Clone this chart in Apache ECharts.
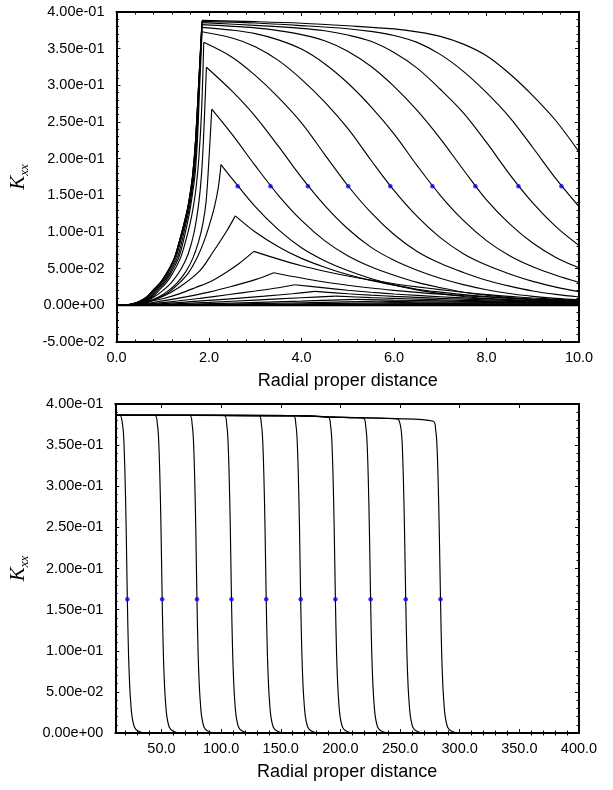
<!DOCTYPE html>
<html><head><meta charset="utf-8">
<script src="https://cdn.jsdelivr.net/npm/echarts@6/dist/echarts.min.js"></script>
<style>html,body{margin:0;padding:0;background:#fff}#c{width:613px;height:790px}</style>
</head><body><div id="c"></div><script>
// ---------- Top panel data (x, Kxx) ----------
const topDotX = [2.62, 3.33, 4.14, 5.01, 5.92, 6.83, 7.76, 8.69, 9.62];
const topDotY = 0.1625;

const envRise = [[0,0],[0.25,0.0008],[0.47,0.0045],[0.65,0.011],[0.79,0.0204],[0.95,0.031],[1.08,0.0432],[1.25,0.064],[1.366,0.0886],[1.46,0.111],[1.544,0.134],[1.6,0.155],[1.65,0.179],[1.71,0.2248],[1.78,0.305]];
const riseC7 = [[0,0],[0.27,0.0008],[0.5,0.0045],[0.68,0.011],[0.82,0.0204],[0.98,0.031],[1.11,0.0432],[1.28,0.064],[1.39,0.0886],[1.48,0.111],[1.56,0.134],[1.615,0.155],[1.665,0.179],[1.72,0.2248],[1.785,0.305]];
const riseC6 = [[0,0],[0.29,0.0008],[0.52,0.0045],[0.71,0.011],[0.85,0.0204],[1.01,0.031],[1.14,0.0432],[1.31,0.064],[1.42,0.0886],[1.5,0.111],[1.58,0.134],[1.63,0.155],[1.68,0.179],[1.735,0.2248],[1.79,0.305]];
const riseC5 = [[0,0],[0.31,0.0008],[0.55,0.0045],[0.74,0.011],[0.88,0.0204],[1.04,0.031],[1.17,0.0432],[1.34,0.064],[1.45,0.0886],[1.53,0.111],[1.6,0.134],[1.65,0.155],[1.7,0.179],[1.75,0.2248],[1.8,0.3]];
const riseC4 = [[0,0],[0.33,0.0008],[0.58,0.0045],[0.77,0.011],[0.92,0.0204],[1.08,0.031],[1.21,0.0432],[1.38,0.064],[1.5,0.0886],[1.59,0.111],[1.66,0.134],[1.72,0.16],[1.78,0.2],[1.84,0.2648]];
const riseC3 = [[0,0],[0.3,0.001],[0.6,0.005],[0.8,0.011],[1.0,0.02],[1.2,0.032],[1.4,0.05],[1.55,0.07],[1.68,0.1],[1.78,0.14],[1.84,0.18],[1.88,0.2248]];
const riseC2 = [[0,0],[0.35,0.001],[0.65,0.005],[0.9,0.011],[1.1,0.019],[1.3,0.03],[1.5,0.046],[1.65,0.064],[1.78,0.088],[1.87,0.112],[1.94,0.143],[2.0,0.2]];
const riseC1 = [[0,0],[0.4,0.001],[0.7,0.0045],[1.08,0.0159],[1.3,0.027],[1.544,0.0432],[1.75,0.066],[1.9,0.0886],[2.02,0.112],[2.117,0.134],[2.2,0.16]];
const riseB1 = [[0,0],[0.4,0.002],[0.7,0.006],[1.0,0.012],[1.366,0.025],[1.8,0.047],[2.08,0.072],[2.37,0.100]];
const riseB2 = [[0,0],[0.4,0.0015],[0.7,0.005],[1.0,0.009],[1.37,0.016],[1.7,0.024],[2.08,0.034],[2.4,0.046],[2.65,0.057]];
const riseB3 = [[0,0],[0.5,0.0015],[1.0,0.006],[1.5,0.0115],[2.0,0.018],[2.5,0.026],[3.0,0.035]];
const riseB4 = [[0,0],[0.6,0.0015],[1.2,0.005],[1.8,0.0095],[2.4,0.0145],[3.0,0.0195],[3.5,0.024]];
const riseB5 = [[0,0],[0.8,0.0015],[1.6,0.005],[2.4,0.0085],[3.2,0.0125],[3.8,0.0158]];
const riseB6 = [[0,0],[1,0.0015],[2,0.004],[3,0.0072],[4,0.0103]];
const riseB7 = [[0,0],[1.2,0.001],[2.5,0.003],[4,0.0058]];
const riseB8 = [[0,0],[1.5,0.0008],[3,0.0023],[4.5,0.0041]];
const riseB9 = [[0,0],[2,0.0007],[4,0.002]];
const riseB10 = [[0,0],[3,0.0008]];
const riseB11 = [[0,0],[3.5,0.0006]];
const riseB12 = [[0,0],[4,0.0005]];

const fallC10 = [[1.85,0.3885],[3,0.3868],[4,0.3847],[5,0.3812],[6,0.3769],[6.5,0.3729],[7,0.3668],[7.5,0.3562],[8,0.3403],[8.5,0.3158],[9,0.2860],[9.5,0.2517],[10,0.2093]];
const fallC9 = [[1.85,0.3872],[3,0.3850],[4,0.3815],[5,0.3772],[5.5,0.3735],[6,0.3680],[6.5,0.3586],[7,0.3422],[7.5,0.3190],[8,0.2900],[8.5,0.2564],[9,0.2152],[9.5,0.1728],[10,0.1346]];
const fallC8 = [[1.85,0.3855],[3,0.3818],[4,0.3777],[4.5,0.3744],[5,0.3686],[5.5,0.3600],[6,0.3447],[6.5,0.3235],[7,0.2947],[7.5,0.2625],[8,0.2221],[8.5,0.1787],[9,0.1398],[9.5,0.1074],[10,0.0817]];
const fallC7 = [[1.85,0.3827],[3,0.3784],[3.5,0.3746],[4,0.3691],[4.5,0.3608],[5,0.3466],[5.5,0.3260],[6,0.2986],[6.5,0.2658],[7,0.2274],[7.5,0.1849],[8,0.1437],[8.5,0.1110],[9,0.0849],[9.5,0.0653],[10,0.0512]];
const fallC6 = [[1.85,0.3791],[2.5,0.3752],[3,0.3705],[3.5,0.3620],[4,0.3494],[4.5,0.3295],[5,0.3032],[5.5,0.2711],[6,0.2339],[6.5,0.1905],[7,0.1501],[7.5,0.1158],[8,0.0882],[8.5,0.0676],[9,0.0525],[9.5,0.0410],[10,0.0313]];
const fallC5 = [[1.85,0.373],[2.5,0.3645],[3,0.3527],[3.5,0.3340],[4,0.3082],[4.5,0.2774],[5,0.2412],[5.5,0.1982],[6,0.1567],[6.5,0.1212],[7,0.0923],[7.5,0.0705],[8,0.0549],[8.5,0.0428],[9,0.0327],[9.5,0.0249],[10,0.0187]];
const fallC4 = [[1.887,0.3587],[2.5,0.3384],[3,0.3135],[3.5,0.2836],[4,0.2488],[4.5,0.2059],[5,0.1634],[5.5,0.1267],[6,0.0966],[6.5,0.0735],[7,0.0573],[7.5,0.0448],[8,0.0342],[8.5,0.0262],[9,0.0196],[9.5,0.0149],[10,0.0114]];
const fallC3 = [[1.945,0.3247],[2.5,0.2920],[3,0.2578],[3.5,0.2170],[4,0.1744],[4.5,0.1363],[5,0.1044],[5.5,0.0794],[6,0.0615],[6.5,0.0479],[7,0.0369],[7.5,0.0282],[8,0.0213],[8.5,0.0161],[9,0.0123],[9.5,0.0095],[10,0.0075]];
const fallC2 = [[2.06,0.2675],[2.5,0.2330],[3,0.1905],[3.5,0.1501],[4,0.1158],[4.5,0.0882],[5,0.0676],[5.5,0.0525],[6,0.0410],[6.5,0.0313],[7,0.0241],[7.5,0.0179],[8,0.0138],[8.5,0.0105],[9,0.0082],[9.5,0.0066],[10,0.0054]];
const fallC1 = [[2.26,0.192],[2.5,0.1728],[3,0.1346],[3.5,0.1032],[4,0.0785],[4.5,0.0608],[5,0.0474],[5.5,0.0365],[6,0.0279],[6.5,0.0211],[7,0.0160],[7.5,0.0121],[8,0.0094],[8.5,0.0074],[9,0.0060],[9.5,0.0049],[10,0.0041]];
const fallB1 = [[2.57,0.122],[3,0.100],[3.5,0.080],[4,0.064],[4.5,0.052],[5,0.042],[5.5,0.034],[6,0.0275],[6.5,0.022],[7,0.018],[7.5,0.0147],[8,0.012],[8.5,0.0098],[9,0.008],[9.5,0.0066],[10,0.0055]];
const fallB2 = [[2.97,0.0736],[3.5,0.063],[4,0.054],[4.5,0.0465],[5,0.040],[5.5,0.0343],[6,0.0294],[6.5,0.0252],[7,0.0214],[7.5,0.0178],[8,0.0147],[8.5,0.0122],[9,0.0100],[9.5,0.0082],[10,0.0068]];
const fallB3 = [[3.40,0.0445],[4,0.0372],[4.5,0.0318],[5,0.0274],[5.5,0.0236],[6,0.0204],[6.5,0.0176],[7,0.0152],[7.5,0.0132],[8,0.0114],[8.5,0.0098],[9,0.0085],[9.5,0.0074],[10,0.0064]];
const fallB4 = [[3.85,0.028],[4.5,0.0238],[5,0.0206],[5.5,0.0178],[6,0.0155],[6.5,0.0135],[7,0.0117],[7.5,0.0102],[8,0.0089],[8.5,0.0078],[9,0.0068],[9.5,0.006],[10,0.0053]];
const fallB5 = [[4.29,0.019],[5,0.0158],[5.5,0.0139],[6,0.0122],[6.5,0.0108],[7,0.0095],[7.5,0.0084],[8,0.0074],[8.5,0.0066],[9,0.0058],[9.5,0.0052],[10,0.0046]];
const fallB6 = [[4.74,0.0125],[5.5,0.0106],[6,0.0095],[6.5,0.0085],[7,0.0076],[8,0.0061],[9,0.0049],[10,0.004]];
const fallB7 = [[5.2,0.0082],[6,0.0071],[7,0.006],[8,0.005],[9,0.0042],[10,0.0035]];
const fallB8 = [[5.65,0.0055],[6.5,0.0049],[8,0.0041],[10,0.003]];
const fallB9 = [[6.1,0.0037],[7,0.0034],[8.5,0.003],[10,0.0025]];
const fallB10 = [[6.55,0.0025],[8,0.0022],[10,0.0019]];
const fallB11 = [[7.0,0.0017],[8.5,0.0015],[10,0.0013]];
const fallB12 = [[7.45,0.0011],[10,0.0009]];
const zeroLine = [[0,0],[10,0]];

const topPairs = [
  [envRise, fallC10], [envRise, fallC9], [envRise, fallC8], [riseC7, fallC7], [riseC6, fallC6],
  [riseC5, fallC5], [riseC4, fallC4], [riseC3, fallC3], [riseC2, fallC2], [riseC1, fallC1],
  [riseB1, fallB1], [riseB2, fallB2], [riseB3, fallB3], [riseB4, fallB4], [riseB5, fallB5],
  [riseB6, fallB6], [riseB7, fallB7], [riseB8, fallB8], [riseB9, fallB9], [riseB10, fallB10],
  [riseB11, fallB11], [riseB12, fallB12]
];

// ---------- Bottom panel data ----------
const botDotX = [21.4, 50.6, 79.75, 108.7, 137.8, 166.7, 195.8, 225.3, 254.75, 283.9];
const botDotY = 0.1625;
const botC1 = [[11.3,0.3862],[15.4,0.386],[17.4,0.375],[18.4,0.358],[19.4,0.316],[20.4,0.251],[21.4,0.1625],[22.4,0.096],[23.4,0.057],[24.4,0.034],[25.4,0.0195],[27.4,0.007],[30.4,0.0024],[35.4,0.0003],[400,0]];
const botC2 = [[11.3,0.3862],[44.6,0.386],[46.6,0.375],[47.6,0.358],[48.6,0.316],[49.6,0.251],[50.6,0.1625],[51.6,0.096],[52.6,0.057],[53.6,0.034],[54.6,0.0195],[56.6,0.007],[59.6,0.0024],[64.6,0.0003],[400,0]];
const botC3 = [[11.3,0.3862],[73.75,0.386],[75.75,0.375],[76.75,0.358],[77.75,0.316],[78.75,0.251],[79.75,0.1625],[80.75,0.096],[81.75,0.057],[82.75,0.034],[83.75,0.0195],[85.75,0.007],[88.75,0.0024],[93.75,0.0003],[400,0]];
const botC4 = [[11.3,0.3862],[102.7,0.386],[104.7,0.375],[105.7,0.358],[106.7,0.316],[107.7,0.251],[108.7,0.1625],[109.7,0.096],[110.7,0.057],[111.7,0.034],[112.7,0.0195],[114.7,0.007],[117.7,0.0024],[122.7,0.0003],[400,0]];
const botC5 = [[11.3,0.3862],[131.8,0.3858],[133.8,0.3748],[134.8,0.3578],[135.8,0.3158],[136.8,0.2508],[137.8,0.1625],[138.8,0.096],[139.8,0.057],[140.8,0.034],[141.8,0.0195],[143.8,0.007],[146.8,0.0024],[151.8,0.0003],[400,0]];
const botC6 = [[11.3,0.3862],[160.7,0.3855],[162.7,0.3745],[163.7,0.3575],[164.7,0.3155],[165.7,0.2505],[166.7,0.1625],[167.7,0.096],[168.7,0.057],[169.7,0.034],[170.7,0.0195],[172.7,0.007],[175.7,0.0024],[180.7,0.0003],[400,0]];
const botC7 = [[11.3,0.3862],[160,0.3858],[189.8,0.384],[191.8,0.373],[192.8,0.356],[193.8,0.314],[194.8,0.249],[195.8,0.1625],[196.8,0.096],[197.8,0.057],[198.8,0.034],[199.8,0.0195],[201.8,0.007],[204.8,0.0024],[209.8,0.0003],[400,0]];
const botC8 = [[11.3,0.3862],[160,0.3858],[194,0.384],[219.3,0.3828],[221.3,0.3718],[222.3,0.3548],[223.3,0.3128],[224.3,0.2478],[225.3,0.1625],[226.3,0.096],[227.3,0.057],[228.3,0.034],[229.3,0.0195],[231.3,0.007],[234.3,0.0024],[239.3,0.0003],[400,0]];
const botC9 = [[11.3,0.3862],[160,0.3858],[194,0.384],[246,0.3822],[248.75,0.3812],[250.75,0.3702],[251.75,0.3532],[252.75,0.3112],[253.75,0.2462],[254.75,0.1625],[255.75,0.096],[256.75,0.057],[257.75,0.034],[258.75,0.0195],[260.75,0.007],[263.75,0.0024],[268.75,0.0003],[400,0]];
const botC10 = [[11.3,0.3862],[160,0.3858],[194,0.384],[246,0.3822],[277.9,0.379],[279.9,0.368],[280.9,0.351],[281.9,0.309],[282.9,0.244],[283.9,0.1625],[284.9,0.096],[285.9,0.057],[286.9,0.034],[287.9,0.0195],[289.9,0.007],[292.9,0.0024],[297.9,0.0003],[400,0]];
const botCurves = [botC1, botC2, botC3, botC4, botC5, botC6, botC7, botC8, botC9, botC10];

// ---------- Axis tick labels ----------
const botMajor = [50, 100, 150, 200, 250, 300, 350, 400];
const botMinor = [20, 30, 40, 60, 70, 80, 90, 110, 120, 130, 140, 160, 170, 180, 190, 210, 220, 230, 240, 260, 270, 280, 290, 310, 320, 330, 340, 360, 370, 380, 390];
const xTitle = 'Radial proper distance';
const yTitle = '{k|K}{s|xx}';

// ---------- Chart ----------
const FONT = 'Liberation Sans';
const BLACK = '#000';
function sci(v) { return v.toExponential(2).replace(/e([+-])(\d)$/, 'e$10$2'); }
function ax(extra) {
  return Object.assign({
    type: 'value',
    axisLine: { show: true, onZero: false, lineStyle: { color: BLACK, width: 2 } },
    axisTick: { show: true, inside: true, length: 4, lineStyle: { color: BLACK, width: 1 } },
    minorTick: { show: true, splitNumber: 5, length: 2.5, lineStyle: { color: BLACK, width: 1 } },
    splitLine: { show: false }, minorSplitLine: { show: false },
    axisLabel: { show: false }
  }, extra);
}
const lblStyle = { fontFamily: FONT, fontSize: 14.5, color: BLACK };
const yName = {
  name: yTitle, nameLocation: 'middle', nameRotate: 90, nameGap: 78,
  nameTextStyle: { rich: {
    k: { fontFamily: 'Liberation Serif', fontStyle: 'italic', fontSize: 21, lineHeight: 26, verticalAlign: 'middle', color: BLACK },
    s: { fontFamily: 'Liberation Serif', fontStyle: 'italic', fontSize: 13, lineHeight: 13, verticalAlign: 'bottom', color: BLACK }
  } }
};
const xName = { name: xTitle, nameLocation: 'middle', nameGap: 30, nameTextStyle: { fontFamily: FONT, fontSize: 18, color: BLACK } };

const xAxis = [
  ax(Object.assign({ gridIndex: 0, position: 'bottom', min: 0, max: 10, interval: 2,
     axisLabel: Object.assign({ show: true, margin: 8, formatter: v => v.toFixed(1) }, lblStyle) }, xName)),
  ax({ gridIndex: 0, position: 'top', min: 0, max: 10, interval: 2 }),
  ax(Object.assign({ gridIndex: 1, position: 'bottom', min: 11.3, max: 400, minorTick: { show: false },
     axisTick: { show: true, inside: true, length: 4, customValues: botMajor, lineStyle: { color: BLACK, width: 1 } },
     axisLabel: Object.assign({ show: true, margin: 8, customValues: botMajor, formatter: v => v.toFixed(1) }, lblStyle) }, xName)),
  ax({ gridIndex: 1, position: 'bottom', min: 11.3, max: 400, minorTick: { show: false }, axisLine: { show: false },
     axisTick: { show: true, inside: true, length: 2.5, customValues: botMinor, lineStyle: { color: BLACK, width: 1 } } }),
  ax({ gridIndex: 1, position: 'top', min: 11.3, max: 400, minorTick: { show: false },
     axisTick: { show: true, inside: true, length: 4, customValues: botMajor, lineStyle: { color: BLACK, width: 1 } } }),
  ax({ gridIndex: 1, position: 'top', min: 11.3, max: 400, minorTick: { show: false }, axisLine: { show: false },
     axisTick: { show: true, inside: true, length: 2.5, customValues: botMinor, lineStyle: { color: BLACK, width: 1 } } })
];
const yAxis = [
  ax(Object.assign({ gridIndex: 0, position: 'left', min: -0.05, max: 0.4, interval: 0.05,
     axisLabel: Object.assign({ show: true, margin: 12, formatter: sci }, lblStyle) }, yName)),
  ax({ gridIndex: 0, position: 'right', min: -0.05, max: 0.4, interval: 0.05 }),
  ax(Object.assign({ gridIndex: 1, position: 'left', min: 0, max: 0.4, interval: 0.05,
     axisLabel: Object.assign({ show: true, margin: 12, formatter: sci }, lblStyle) }, yName)),
  ax({ gridIndex: 1, position: 'right', min: 0, max: 0.4, interval: 0.05 })
];

const lineBase = { type: 'line', showSymbol: false, symbol: 'none', silent: true, animation: false,
  lineStyle: { color: BLACK, width: 1.15 } };
const series = [];
topPairs.forEach(([rise, fall]) => {
  series.push(Object.assign({}, lineBase, { xAxisIndex: 0, yAxisIndex: 0, smooth: 0.35, data: rise.concat([fall[0]]) }));
  series.push(Object.assign({}, lineBase, { xAxisIndex: 0, yAxisIndex: 0, smooth: 0.35, data: fall }));
});
series.push(Object.assign({}, lineBase, { xAxisIndex: 0, yAxisIndex: 0, data: zeroLine, lineStyle: { color: BLACK, width: 2 } }));
series.push({ type: 'scatter', xAxisIndex: 0, yAxisIndex: 0, symbolSize: 4.5, animation: false, silent: true, z: 5,
  itemStyle: { color: '#0000ff' }, data: topDotX.map(x => [x, topDotY]) });
botCurves.forEach(c => {
  series.push(Object.assign({}, lineBase, { xAxisIndex: 2, yAxisIndex: 2, smooth: 0.3, data: c }));
});
series.push({ type: 'scatter', xAxisIndex: 2, yAxisIndex: 2, symbolSize: 4.5, animation: false, silent: true, z: 5,
  itemStyle: { color: '#0000ff' }, data: botDotX.map(x => [x, botDotY]) });

const chart = echarts.init(document.getElementById('c'), null, { renderer: 'canvas' });
chart.setOption({
  backgroundColor: '#fff',
  animation: false,
  grid: [
    { left: 113, top: 12, width: 466, height: 330 },
    { left: 113, top: 404, width: 466, height: 329 }
  ],
  xAxis, yAxis, series
});
</script></body></html>
